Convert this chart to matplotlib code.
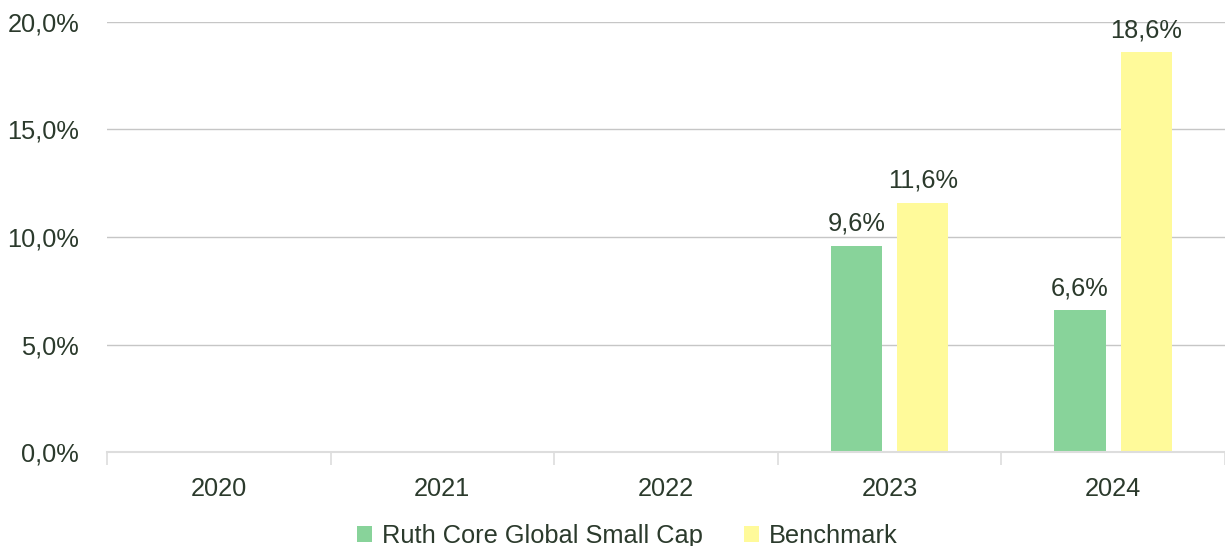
import numpy as np
import matplotlib.pyplot as plt

plt.rcParams['font.family'] = ['Liberation Sans', 'DejaVu Sans']

years = ['2020', '2021', '2022', '2023', '2024']
fund = [np.nan, np.nan, np.nan, 9.6, 6.6]
bench = [np.nan, np.nan, np.nan, 11.6, 18.6]
yticks = [0, 5, 10, 15, 20]

text_col = '#2b3a2c'
green = '#88d39a'
yellow = '#fffa9a'
fs = 18.3

fig = plt.figure(figsize=(12.25, 5.46), dpi=100)
ax = fig.add_axes([0.0873, 0.172, 0.9127, 0.788])

x = np.arange(len(years))
w = 0.23
off = 0.148
b1 = ax.bar(x - off, fund, w, color=green, label='Ruth Core Global Small Cap', zorder=3)
b2 = ax.bar(x + off, bench, w, color=yellow, label='Benchmark', zorder=3)

for bars, vals in ((b1, fund), (b2, bench)):
    for r, v in zip(bars, vals):
        if np.isnan(v):
            continue
        ax.annotate(f'{v:.1f}%'.replace('.', ','), (r.get_x() + r.get_width() / 2, v),
                    xytext=(0, 7), textcoords='offset points', ha='center', va='bottom',
                    fontsize=fs, color=text_col)

ax.set_xlim(-0.5, len(years) - 0.5)
ax.set_ylim(0, 20)
ax.set_yticks(yticks)
ax.set_yticklabels([f'{t:.1f}%'.replace('.', ',') for t in yticks])
ax.set_xticks(x)
ax.set_xticklabels(years)
ax.tick_params(axis='both', length=0, labelsize=fs, labelcolor=text_col)
ax.tick_params(axis='x', pad=18)
ax.tick_params(axis='y', pad=20)
ax.set_xticks(np.arange(len(years) + 1) - 0.5, minor=True)
ax.tick_params(axis='x', which='minor', length=9, color='#dddddd', width=1.2)

ax.grid(axis='y', color='#c6c6c6', linewidth=1, zorder=0)
for s in ['top', 'right', 'left']:
    ax.spines[s].set_visible(False)
ax.spines['bottom'].set_color('#dddddd')
ax.spines['bottom'].set_linewidth(1.5)
ax.spines['bottom'].set_zorder(4)

fig.legend(loc='lower center', bbox_to_anchor=(0.512, -0.045), ncol=2, frameon=False,
           fontsize=fs, handlelength=0.6, handleheight=0.6, handletextpad=0.4,
           columnspacing=1.6, labelcolor=text_col)

fig.savefig('out.png', dpi=100)
